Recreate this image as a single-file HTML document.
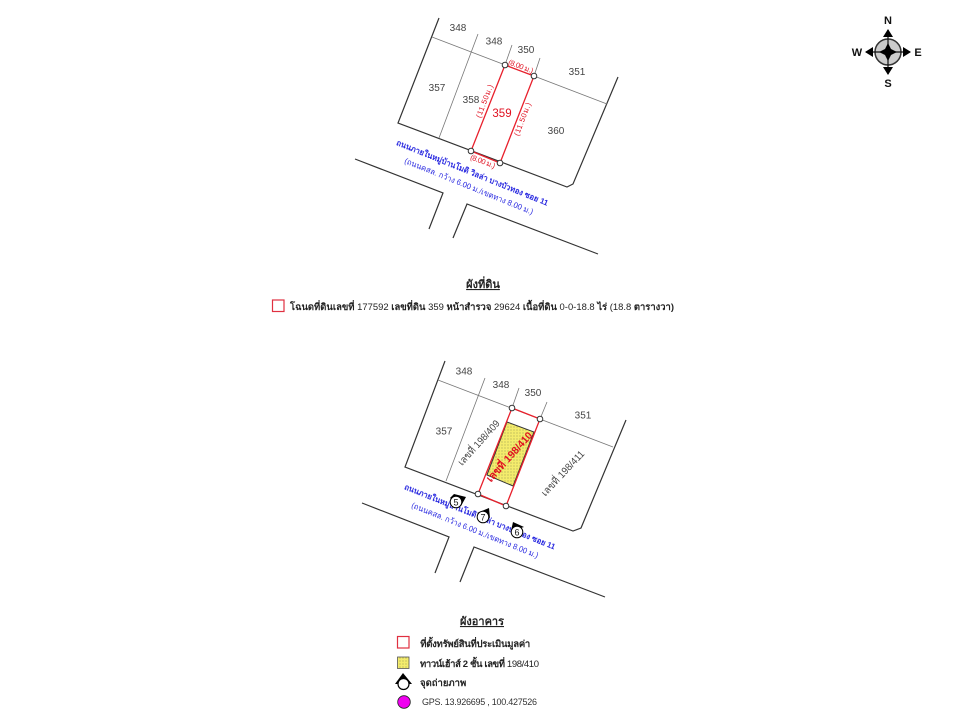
<!DOCTYPE html>
<html><head><meta charset="utf-8"><style>
html,body{margin:0;padding:0;background:#fff}
svg{display:block;filter:blur(.3px)}
text{font-family:"Liberation Sans","Noto Sans CJK SC",sans-serif}
.g{fill:#444;font-size:10px}
.b{fill:#2a2ae0;font-size:8px}
.k{fill:#222;font-size:9.5px}
.r{fill:#e01020;font-size:7.5px}
</style></head><body>
<svg width="960" height="720" viewBox="0 0 960 720" xmlns="http://www.w3.org/2000/svg">
<defs>
<pattern id="dots" width="3" height="3" patternUnits="userSpaceOnUse"><rect width="3" height="3" fill="#f4ec6c"/><circle cx="1" cy="1" r=".55" fill="#8a8a50"/></pattern>
</defs>
<!-- Top plan -->
<g fill="none" stroke="#333" stroke-width="1.2">
<path d="M439 18L398 123L567 187L573 184L618 77"/>
<path d="M355 159L443 193L429 229"/>
<path d="M453 238L467 204L598 254"/>
</g>
<g fill="none" stroke="#777" stroke-width=".8">
<path d="M432 37L607 104M478 34L439 138M512 45L505 65M540 58L534 76"/>
</g>
<path d="M505 65L534 76L500 163L471 151Z" fill="none" stroke="#e8202c" stroke-width="1.3"/>
<g fill="#fff" stroke="#333" stroke-width="1"><circle cx="505" cy="65" r="2.8"/><circle cx="534" cy="76" r="2.8"/><circle cx="500" cy="163" r="2.8"/><circle cx="471" cy="151" r="2.8"/></g>
<g class="g" text-anchor="middle">
<text x="458" y="31">348</text><text x="494" y="44.500">348</text><text x="526" y="53">350</text><text x="577" y="75">351</text><text x="437" y="91">357</text><text x="471" y="103">358</text><text x="556" y="134">360</text>
</g>
<text x="502" y="117" text-anchor="middle" fill="#e01020" font-size="11.5">359</text>
<text class="r" transform="translate(521 66) rotate(21)" text-anchor="middle" y="3" textLength="26">(8.00 ม.)</text>
<text class="r" transform="translate(483 161) rotate(21)" text-anchor="middle" y="3" textLength="26">(8.00 ม.)</text>
<text class="r" transform="translate(484 101) rotate(-69)" text-anchor="middle" y="3" textLength="35">(11.50ม.)</text>
<text class="r" transform="translate(522 119) rotate(-69)" text-anchor="middle" y="3" textLength="35">(11.50ม.)</text>
<text class="b" font-weight="bold" transform="translate(472.500 172.500) rotate(22)" text-anchor="middle" y="3" textLength="163" lengthAdjust="spacingAndGlyphs">ถนนภายในหมู่บ้านโมดิ วิลล่า บางบัวทอง ซอย 11</text>
<text class="b" transform="translate(469 186) rotate(22)" text-anchor="middle" y="3" textLength="138" lengthAdjust="spacingAndGlyphs">(ถนนคสล. กว้าง 6.00 ม./เขตทาง 8.00 ม.)</text>
<!-- Compass -->
<g>
<circle cx="888" cy="52" r="13" fill="#ccc" stroke="#333" stroke-width="1.5"/>
<path d="M866 52H910M888 30V74" stroke="#111" stroke-width="1.2"/>
<path d="M888 43L891 49L897 52L891 55L888 61L885 55L879 52L885 49Z" fill="#000"/>
<path d="M888 29L893 37H883ZM888 75L893 67H883ZM865 52L873 47V57ZM911 52L903 47V57Z" fill="#000"/>
<g font-size="11" font-weight="bold" fill="#111" text-anchor="middle">
<text x="888" y="24">N</text><text x="888" y="87">S</text><text x="857" y="56">W</text><text x="918" y="56">E</text>
</g>
</g>
<!-- Legend 1 -->
<text x="483" y="288" text-anchor="middle" font-size="11" font-weight="bold" fill="#222" text-decoration="underline">ผังที่ดิน</text>
<rect x="272.500" y="300" width="11.500" height="11.500" fill="#fff" stroke="#e03040" stroke-width="1.200"/>
<text class="k" x="290" y="310" textLength="384" lengthAdjust="spacingAndGlyphs"><tspan font-weight="bold">โฉนดที่ดินเลขที่</tspan> 177592 <tspan font-weight="bold">เลขที่ดิน</tspan> 359 <tspan font-weight="bold">หน้าสำรวจ</tspan> 29624 <tspan font-weight="bold">เนื้อที่ดิน</tspan> 0-0-18.8 <tspan font-weight="bold">ไร่</tspan> (18.8 <tspan font-weight="bold">ตารางวา)</tspan></text>
<!-- Bottom plan -->
<g fill="none" stroke="#333" stroke-width="1.2">
<path d="M445 361L405 467L573 531L581 528L626 420"/>
<path d="M362 503L449 537L435 573"/>
<path d="M460 582L474 547L605 597"/>
</g>
<g fill="none" stroke="#777" stroke-width=".8">
<path d="M438 380L613 447M485 378L446 481M519 388L512 408M547 402L540 419"/>
</g>
<path d="M507 422L534 432L513 486L487 475Z" fill="url(#dots)" stroke="#333" stroke-width="1"/>
<path d="M512 408L540 419L506 506L478 494Z" fill="none" stroke="#e8202c" stroke-width="1.300"/>
<g fill="#fff" stroke="#333" stroke-width="1"><circle cx="512" cy="408" r="2.800"/><circle cx="540" cy="419" r="2.800"/><circle cx="506" cy="506" r="2.800"/><circle cx="478" cy="494" r="2.800"/></g>
<g class="g" text-anchor="middle">
<text x="464" y="374.500">348</text><text x="501" y="388">348</text><text x="533" y="396">350</text><text x="583" y="418.500">351</text><text x="444" y="434.500">357</text>
</g>
<text class="g" transform="translate(479 443) rotate(-48)" text-anchor="middle" y="3" textLength="57" lengthAdjust="spacingAndGlyphs">เลขที่ 198/409</text>
<text class="g" transform="translate(563 473.500) rotate(-47)" text-anchor="middle" y="3" textLength="58" lengthAdjust="spacingAndGlyphs">เลขที่ 198/411</text>
<text transform="translate(509 456.500) rotate(-48)" text-anchor="middle" y="4" fill="#e01020" font-size="10.500" font-weight="bold" textLength="63" lengthAdjust="spacingAndGlyphs">เลขที่ 198/410</text>
<text class="b" font-weight="bold" transform="translate(480 516.500) rotate(22)" text-anchor="middle" y="3" textLength="162" lengthAdjust="spacingAndGlyphs">ถนนภายในหมู่บ้านโมดิ วิลล่า บางบัวทอง ซอย 11</text>
<text class="b" transform="translate(475 530) rotate(22)" text-anchor="middle" y="3" textLength="136" lengthAdjust="spacingAndGlyphs">(ถนนคสล. กว้าง 6.00 ม./เขตทาง 8.00 ม.)</text>
<!-- Photo markers -->
<g>
<path d="M450 498L454 494L466 497L461 506Z" fill="#000"/><circle cx="456" cy="502" r="5.800" fill="#fff" stroke="#000" stroke-width="1"/>
<text x="456" y="505.500" text-anchor="middle" font-size="9" fill="#111">5</text>
<path d="M477 513L489 508L490 518Z" fill="#000"/><circle cx="483" cy="517" r="5.800" fill="#fff" stroke="#000" stroke-width="1"/>
<text x="483" y="520.500" text-anchor="middle" font-size="9" fill="#111">7</text>
<path d="M513 522L524 527L511 531Z" fill="#000"/><circle cx="517" cy="532" r="5.800" fill="#fff" stroke="#000" stroke-width="1"/>
<text x="517" y="535.500" text-anchor="middle" font-size="9" fill="#111">6</text>
</g>
<!-- Legend 2 -->
<text x="482" y="625" text-anchor="middle" font-size="11" font-weight="bold" fill="#222" text-decoration="underline">ผังอาคาร</text>
<rect x="397.500" y="636.500" width="11.500" height="11.500" fill="#fff" stroke="#e03040" stroke-width="1.200"/>
<text class="k" x="420" y="647" font-weight="bold" textLength="110">ที่ตั้งทรัพย์สินที่ประเมินมูลค่า</text>
<rect x="397.500" y="657" width="11.500" height="11.500" fill="url(#dots)" stroke="#555" stroke-width=".8"/>
<text class="k" x="420" y="667" textLength="119"><tspan font-weight="bold">ทาวน์เฮ้าส์ 2 ชั้น เลขที่</tspan> 198/410</text>
<path d="M403 673L412 684H395Z" fill="#000"/><circle cx="403.500" cy="684" r="5.500" fill="#fff" stroke="#000" stroke-width="1.200"/>
<text class="k" x="420" y="686" font-weight="bold">จุดถ่ายภาพ</text>
<circle cx="404" cy="702" r="6.300" fill="#f000f0" stroke="#222" stroke-width=".8"/>
<text x="422" y="705" font-size="9" fill="#333" textLength="115">GPS. 13.926695 , 100.427526</text>
</svg>
</body></html>
